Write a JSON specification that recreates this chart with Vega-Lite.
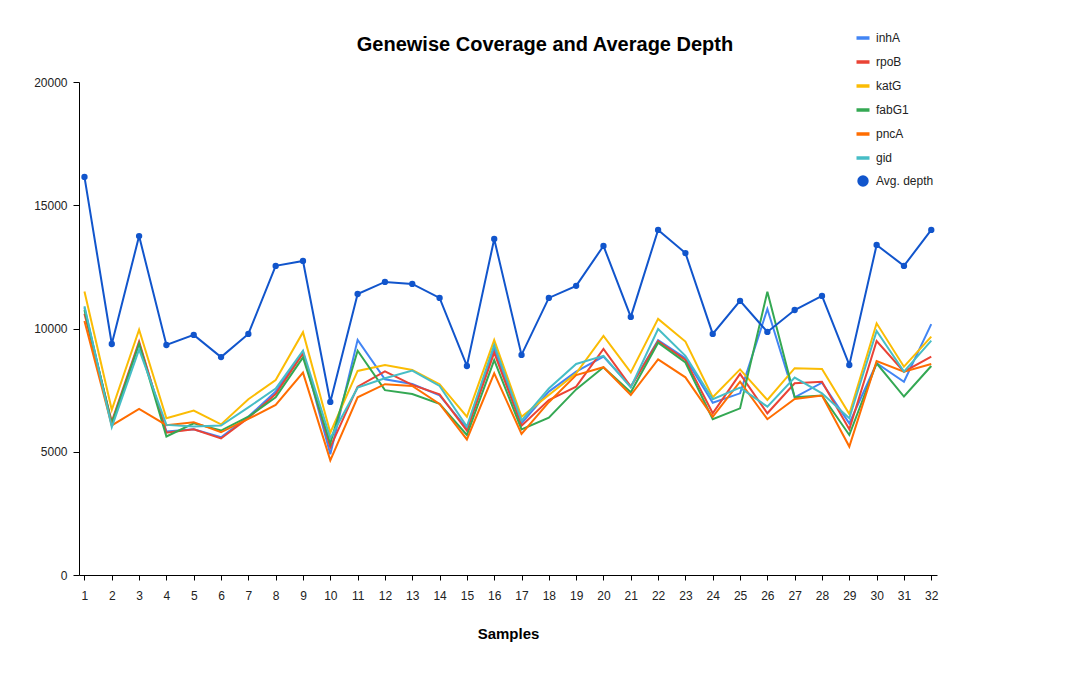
{
  "$schema": "https://vega.github.io/schema/vega-lite/v6.json",
  "width": 858,
  "height": 493,
  "autosize": {"type": "none"},
  "padding": {"left": 79, "top": 82, "right": 154, "bottom": 99},
  "background": "white",
  "title": {"text": "Genewise Coverage and Average Depth", "font": "Liberation Sans", "fontSize": 20, "fontWeight": "bold", "color": "#000000", "anchor": "middle", "dx": 37, "offset": -23},
  "config": {"view": {"stroke": null}, "font": "Liberation Sans"},
  "data": {"values": [
    {"s": 1, "inhA": 10850, "rpoB": 10600, "katG": 11500, "fabG1": 10750, "pncA": 10300, "gid": 10900, "avg": 16150},
    {"s": 2, "inhA": 6090, "rpoB": 6220, "katG": 6700, "fabG1": 6150, "pncA": 6070, "gid": 6000, "avg": 9370},
    {"s": 3, "inhA": 9400, "rpoB": 9470, "katG": 9950, "fabG1": 9380, "pncA": 6740, "gid": 9150, "avg": 13750},
    {"s": 4, "inhA": 5820, "rpoB": 5770, "katG": 6360, "fabG1": 5620, "pncA": 6080, "gid": 6090, "avg": 9330},
    {"s": 5, "inhA": 5910, "rpoB": 5910, "katG": 6670, "fabG1": 6150, "pncA": 6200, "gid": 6020, "avg": 9740},
    {"s": 6, "inhA": 5590, "rpoB": 5540, "katG": 6110, "fabG1": 5860, "pncA": 5790, "gid": 6060, "avg": 8840},
    {"s": 7, "inhA": 6420, "rpoB": 6370, "katG": 7130, "fabG1": 6420, "pncA": 6330, "gid": 6800, "avg": 9780},
    {"s": 8, "inhA": 7440, "rpoB": 7340, "katG": 7910, "fabG1": 7210, "pncA": 6900, "gid": 7560, "avg": 12540},
    {"s": 9, "inhA": 9060, "rpoB": 8990, "katG": 9850, "fabG1": 8830, "pncA": 8210, "gid": 9100, "avg": 12740},
    {"s": 10, "inhA": 4900, "rpoB": 5180, "katG": 5770, "fabG1": 5340, "pncA": 4650, "gid": 5550, "avg": 7020},
    {"s": 11, "inhA": 9540, "rpoB": 7640, "katG": 8280, "fabG1": 9100, "pncA": 7210, "gid": 7600, "avg": 11400},
    {"s": 12, "inhA": 7940, "rpoB": 8260, "katG": 8520, "fabG1": 7500, "pncA": 7740, "gid": 7980, "avg": 11890},
    {"s": 13, "inhA": 7750, "rpoB": 7710, "katG": 8320, "fabG1": 7340, "pncA": 7670, "gid": 8290, "avg": 11810},
    {"s": 14, "inhA": 7290, "rpoB": 7330, "katG": 7740, "fabG1": 6940, "pncA": 6940, "gid": 7670, "avg": 11240},
    {"s": 15, "inhA": 5950, "rpoB": 5860, "katG": 6420, "fabG1": 5680, "pncA": 5500, "gid": 6020, "avg": 8480},
    {"s": 16, "inhA": 9200, "rpoB": 9020, "katG": 9530, "fabG1": 8720, "pncA": 8180, "gid": 9330, "avg": 13630},
    {"s": 17, "inhA": 6150, "rpoB": 6060, "katG": 6420, "fabG1": 5910, "pncA": 5720, "gid": 6260, "avg": 8930},
    {"s": 18, "inhA": 7440, "rpoB": 7100, "katG": 7300, "fabG1": 6380, "pncA": 7010, "gid": 7570, "avg": 11240},
    {"s": 19, "inhA": 8250, "rpoB": 7640, "katG": 8180, "fabG1": 7530, "pncA": 8110, "gid": 8560, "avg": 11730},
    {"s": 20, "inhA": 8860, "rpoB": 9170, "katG": 9700, "fabG1": 8430, "pncA": 8430, "gid": 8890, "avg": 13350},
    {"s": 21, "inhA": 7640, "rpoB": 7640, "katG": 8220, "fabG1": 7410, "pncA": 7300, "gid": 7610, "avg": 10470},
    {"s": 22, "inhA": 9530, "rpoB": 9490, "katG": 10390, "fabG1": 9420, "pncA": 8750, "gid": 9980, "avg": 14000},
    {"s": 23, "inhA": 8790, "rpoB": 8720, "katG": 9470, "fabG1": 8620, "pncA": 8020, "gid": 8890, "avg": 13060},
    {"s": 24, "inhA": 6990, "rpoB": 6560, "katG": 7210, "fabG1": 6320, "pncA": 6420, "gid": 7130, "avg": 9780},
    {"s": 25, "inhA": 7370, "rpoB": 8160, "katG": 8340, "fabG1": 6760, "pncA": 7840, "gid": 7600, "avg": 11120},
    {"s": 26, "inhA": 10790, "rpoB": 6560, "katG": 7100, "fabG1": 11490, "pncA": 6320, "gid": 6830, "avg": 9860},
    {"s": 27, "inhA": 7210, "rpoB": 7780, "katG": 8390, "fabG1": 7210, "pncA": 7140, "gid": 8010, "avg": 10750},
    {"s": 28, "inhA": 7800, "rpoB": 7840, "katG": 8360, "fabG1": 7280, "pncA": 7280, "gid": 7370, "avg": 11320},
    {"s": 29, "inhA": 6150, "rpoB": 5910, "katG": 6530, "fabG1": 5680, "pncA": 5210, "gid": 6360, "avg": 8520},
    {"s": 30, "inhA": 8590, "rpoB": 9490, "katG": 10210, "fabG1": 8590, "pncA": 8680, "gid": 9900, "avg": 13390},
    {"s": 31, "inhA": 7840, "rpoB": 8250, "katG": 8450, "fabG1": 7240, "pncA": 8250, "gid": 8250, "avg": 12540},
    {"s": 32, "inhA": 10180, "rpoB": 8860, "katG": 9670, "fabG1": 8480, "pncA": 8560, "gid": 9510, "avg": 14000}
  ]},
  "transform": [{"fold": ["inhA", "rpoB", "katG", "fabG1", "pncA", "gid", "avg"], "as": ["series", "value"]}],
  "encoding": {
    "x": {"field": "s", "type": "quantitative", "scale": {"domain": [0.8, 32.21], "nice": false, "zero": false},
      "axis": {"title": "Samples", "values": [1,2,3,4,5,6,7,8,9,10,11,12,13,14,15,16,17,18,19,20,21,22,23,24,25,26,27,28,29,30,31,32],
        "grid": false, "domainColor": "#000000", "tickColor": "#000000", "tickSize": 5, "labelFontSize": 12, "labelColor": "#222222", "labelFont": "Liberation Sans",
        "labelBaseline": "alphabetic", "labelPadding": 19, "labelFlush": false, "labelOverlap": false,
        "titleFont": "Liberation Sans", "titleFontSize": 15, "titleFontWeight": "bold", "titleColor": "#000000", "titleBaseline": "alphabetic", "titleY": 63}},
    "y": {"field": "value", "type": "quantitative", "scale": {"domain": [0, 20000], "nice": false},
      "axis": {"title": null, "values": [0, 5000, 10000, 15000, 20000], "grid": false, "domainColor": "#000000", "tickColor": "#000000", "tickSize": 6, "labelPadding": 6,
        "labelFontSize": 12, "labelColor": "#222222", "labelFont": "Liberation Sans", "format": "d"}}
  },
  "layer": [
    {"mark": {"type": "line", "strokeWidth": 2},
      "encoding": {"color": {"field": "series", "type": "nominal",
        "scale": {"domain": ["inhA", "rpoB", "katG", "fabG1", "pncA", "gid", "avg"], "range": ["#4285F4", "#EA4335", "#FBBC04", "#34A853", "#FF6D01", "#46BDC6", "#1155CC"]},
        "legend": {"orient": "none", "legendX": 778, "legendY": -50, "title": null, "labelFont": "Liberation Sans", "labelFontSize": 12, "labelColor": "#222222",
          "rowPadding": 10, "labelOffset": 7, "symbolType": "stroke", "symbolSize": 169, "symbolStrokeWidth": 3.5,
          "labelExpr": "datum.label === 'avg' ? 'Avg. depth' : datum.label",
          "encode": {"symbols": {"update": {
            "shape": {"signal": "datum.value === 'avg' ? 'circle' : 'stroke'"},
            "size": {"signal": "datum.value === 'avg' ? 130 : 169"},
            "fill": {"signal": "datum.value === 'avg' ? '#1155CC' : 'transparent'"},
            "strokeWidth": {"signal": "datum.value === 'avg' ? 0 : 3.5"}
          }}}}}}},
    {"transform": [{"filter": "datum.series === 'avg'"}],
      "mark": {"type": "point", "filled": true, "size": 40, "opacity": 1, "color": "#1155CC"}}
  ]
}
